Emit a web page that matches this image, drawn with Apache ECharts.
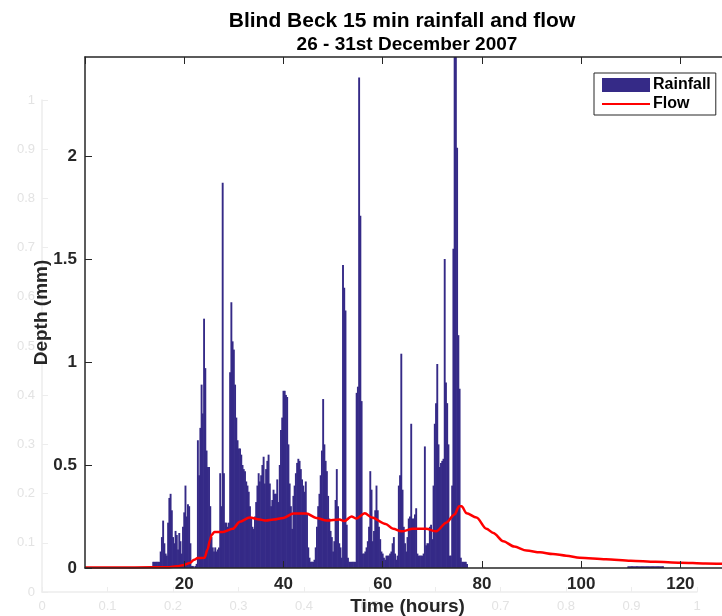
<!DOCTYPE html>
<html>
<head>
<meta charset="utf-8">
<script src="https://cdn.jsdelivr.net/npm/echarts@6/dist/echarts.min.js"></script>
<style>html,body{margin:0;padding:0;background:#fff;}#c{width:722px;height:616px;}</style>
</head>
<body>
<div id="c"></div>
<script>
// ---- data ----
const titleText = 'Blind Beck 15 min rainfall and flow';
const subtitleText = '26 - 31st December 2007';
const xName = 'Time (hours)';
const yName = 'Depth (mm)';
const seriesNames = ['Rainfall', 'Flow'];

// 15-minute rainfall depths (mm), first bar at 13.75 h, step 0.25 h
const rainStartHour = 13.75;
const rainStepHour = 0.25;
const rainValues = [
  0.03,
  0.03,0.03,0.03,0.03,
  0.03,0.08,0.15,0.23,
  0.12,0.07,0.06,0.22,
  0.34,0.36,0.28,0.15,
  0.12,0.18,0.16,0.09,
  0.17,0.13,0.07,0.20,
  0.27,0.40,0.25,0.31,
  0.30,0.12,0.01,0.01,
  0.00,0.01,0.02,0.62,
  0.45,0.68,0.89,0.75,
  1.21,0.97,0.57,0.49,
  0.49,0.30,0.15,0.10,
  0.08,0.10,0.08,0.09,
  0.10,0.46,0.30,1.87,
  0.46,0.22,0.22,0.20,
  0.22,0.95,1.29,1.10,
  1.06,0.89,0.73,0.62,
  0.58,0.58,0.55,0.50,
  0.48,0.47,0.42,0.40,
  0.37,0.30,0.24,0.20,
  0.19,0.25,0.32,0.40,
  0.46,0.42,0.45,0.50,
  0.54,0.41,0.48,0.52,
  0.55,0.41,0.30,0.33,
  0.38,0.36,0.36,0.43,
  0.32,0.50,0.67,0.73,
  0.86,0.86,0.84,0.83,
  0.60,0.41,0.30,0.19,
  0.35,0.40,0.46,0.51,
  0.53,0.52,0.48,0.43,
  0.40,0.37,0.42,0.26,
  0.10,0.05,0.03,0.03,
  0.03,0.04,0.10,0.20,
  0.30,0.36,0.45,0.57,
  0.82,0.60,0.52,0.47,
  0.35,0.24,0.18,0.15,
  0.08,0.13,0.33,0.48,
  0.30,0.12,0.10,0.05,
  1.47,1.36,1.25,0.21,
  0.05,0.03,0.03,0.03,
  0.03,0.03,0.03,0.85,
  0.88,2.38,1.71,0.81,
  0.07,0.07,0.08,0.10,
  0.13,0.20,0.47,0.38,
  0.13,0.18,0.28,0.40,
  0.28,0.20,0.14,0.08,
  0.07,0.05,0.04,0.06,
  0.06,0.06,0.07,0.08,
  0.12,0.15,0.07,0.04,
  0.06,0.40,0.45,1.04,
  0.38,0.20,0.12,0.08,
  0.15,0.24,0.25,0.70,
  0.24,0.24,0.26,0.29,
  0.07,0.06,0.06,0.06,
  0.06,0.07,0.59,0.11,
  0.12,0.12,0.20,0.21,
  0.14,0.40,0.70,0.80,
  0.99,0.60,0.49,0.51,
  0.52,0.53,1.50,0.90,
  0.80,0.60,0.06,0.06,
  0.40,1.55,2.48,2.48,
  2.04,1.13,0.87,0.05,
  0.03,0.03,0.03,0.03,
  0.02,0.00
];
// light rain later in the record, first bar at 109.5 h
const lateRainStartHour = 109.5;
const lateRainValues = [
  0.008,0.008,0.008,0.008,0.008,0.008,0.008,0.008,0.008,0.008,
  0.008,0.008,0.008,0.008,0.008,0.008,0.008,0.008,0.008,0.008,
  0.008,0.008,0.008,0.008,0.008,0.008,0.008,0.008,0.008
];

// flow (scaled to the depth axis), sampled times (h) and values
const flowHours = [0, 10, 17, 18.5, 20, 21.1, 22, 22.7, 24.1, 24.7, 25.2, 25.5, 26.1, 27.8, 29.8, 31.2, 33.2, 35.2, 36.5, 38, 40, 42, 44.6, 46.6, 48.7, 51.3, 52.3, 53.7, 54.7, 56.4, 57.8, 60.6, 62.1, 63.8, 66.1, 68.7, 70.8, 72.8, 74.5, 75.4, 75.9, 76.9, 78.9, 80.9, 82.3, 84.3, 86.5, 89, 91.7, 94.3, 97, 99.7, 105, 110, 115, 120, 125, 130];
const flowValues = [0.003, 0.003, 0.004, 0.008, 0.015, 0.024, 0.04, 0.048, 0.05, 0.09, 0.136, 0.16, 0.175, 0.175, 0.19, 0.225, 0.245, 0.235, 0.23, 0.235, 0.243, 0.265, 0.265, 0.243, 0.23, 0.235, 0.228, 0.25, 0.24, 0.266, 0.245, 0.214, 0.19, 0.178, 0.19, 0.19, 0.178, 0.22, 0.26, 0.30, 0.30, 0.266, 0.245, 0.19, 0.17, 0.13, 0.104, 0.085, 0.076, 0.068, 0.06, 0.05, 0.042, 0.035, 0.03, 0.026, 0.022, 0.02];

// axis ticks
const xMin = 0, xMax = 130, xStep = 20;
const yMin = 0, yMax = 2.48, yStep = 0.5;
const bgMin = 0, bgMax = 1, bgStep = 0.1;

// ---- build ----
const rainData = rainValues.map((v, i) => [rainStartHour + i * rainStepHour, v])
  .concat(lateRainValues.map((v, i) => [lateRainStartHour + i * rainStepHour, v]));
const flowData = flowHours.map((h, i) => [h, flowValues[i]]);

const FF = '"Liberation Sans", Arial, Helvetica, sans-serif';
const dark = '#262626';
const faintLine = '#ededed';
const faintText = '#e3e3e3';

const chart = echarts.init(document.getElementById('c'), null, {renderer: 'canvas'});
chart.setOption({
  animation: false,
  backgroundColor: '#fff',
  textStyle: {fontFamily: FF},
  title: [
    {text: titleText, left: 402, top: 11, textAlign: 'center', padding: 0,
     textStyle: {fontSize: 21, fontWeight: 'bold', color: '#000', fontFamily: FF}},
    {text: subtitleText, left: 407, top: 35, textAlign: 'center', padding: 0,
     textStyle: {fontSize: 19, fontWeight: 'bold', color: '#000', fontFamily: FF}}
  ],
  legend: {
    orient: 'vertical', left: 594, top: 73,
    data: [{name: seriesNames[0], icon: 'rect'}, {name: seriesNames[1], itemStyle: {opacity: 0}}],
    backgroundColor: '#fff', borderColor: dark, borderWidth: 1,
    padding: [4, 5, 3, 7], itemGap: 3, itemWidth: 48, itemHeight: 14,
    textStyle: {fontSize: 16, fontWeight: 'bold', color: '#000', fontFamily: FF, padding: [0, 0, 0, -2]}
  },
  grid: [
    {left: 42, top: 100, width: 655, height: 492, show: false, outerBoundsMode: 'none', containLabel: false},
    {left: 85, top: 57, width: 645, height: 511, show: true, backgroundColor: '#fff', borderWidth: 0, z: 3, outerBoundsMode: 'none', containLabel: false}
  ],
  xAxis: [
    {gridIndex: 0, type: 'value', min: bgMin, max: bgMax, interval: bgStep, position: 'bottom',
     axisLine: {show: true, lineStyle: {color: faintLine, width: 1.5}},
     axisTick: {show: true, inside: true, length: 5, lineStyle: {color: faintLine}},
     axisLabel: {color: faintText, fontSize: 13, margin: 8, fontFamily: FF},
     splitLine: {show: false}},
    {gridIndex: 1, type: 'value', min: xMin, max: xMax, interval: xStep, position: 'bottom',
     name: xName, nameLocation: 'middle', nameGap: 29, nameMoveOverlap: false,
     nameTextStyle: {fontSize: 19, fontWeight: 'bold', color: dark, fontFamily: FF},
     axisLine: {show: true, onZero: false, lineStyle: {color: dark, width: 1.5}},
     axisTick: {show: true, inside: true, length: 7, lineStyle: {color: dark}},
     axisLabel: {fontSize: 17, fontWeight: 'bold', color: dark, margin: 8, showMinLabel: false, showMaxLabel: false, fontFamily: FF},
     splitLine: {show: false}, z: 5},
    {gridIndex: 1, type: 'value', min: xMin, max: xMax, interval: xStep, position: 'top',
     axisLine: {show: true, onZero: false, lineStyle: {color: dark, width: 1.5}},
     axisTick: {show: true, inside: true, length: 7, lineStyle: {color: dark}},
     axisLabel: {show: false}, splitLine: {show: false}, z: 5}
  ],
  yAxis: [
    {gridIndex: 0, type: 'value', min: bgMin, max: bgMax, interval: bgStep, position: 'left',
     axisLine: {show: true, lineStyle: {color: faintLine, width: 1.5}},
     axisTick: {show: true, inside: true, length: 6, lineStyle: {color: faintLine}},
     axisLabel: {color: faintText, fontSize: 13, margin: 7, fontFamily: FF},
     splitLine: {show: false}},
    {gridIndex: 1, type: 'value', min: yMin, max: yMax, interval: yStep, position: 'left',
     name: yName, nameLocation: 'middle', nameGap: 34, nameMoveOverlap: false,
     nameTextStyle: {fontSize: 19, fontWeight: 'bold', color: dark, fontFamily: FF},
     axisLine: {show: true, onZero: false, lineStyle: {color: dark, width: 1.5}},
     axisTick: {show: true, inside: true, length: 7, lineStyle: {color: dark}},
     axisLabel: {fontSize: 17, fontWeight: 'bold', color: dark, margin: 8, showMaxLabel: false, fontFamily: FF},
     splitLine: {show: false}, z: 5}
  ],
  series: [
    {name: seriesNames[0], type: 'bar', xAxisIndex: 1, yAxisIndex: 1, data: rainData,
     barWidth: 1.9, itemStyle: {color: '#352a87'}, z: 3},
    {name: seriesNames[1], type: 'line', xAxisIndex: 1, yAxisIndex: 1, data: flowData,
     showSymbol: false, symbol: 'none', smooth: 0.3, smoothMonotone: 'x',
     lineStyle: {color: '#ff0000', width: 2.5}, itemStyle: {color: '#ff0000'}, z: 4}
  ]
});
</script>
</body>
</html>
